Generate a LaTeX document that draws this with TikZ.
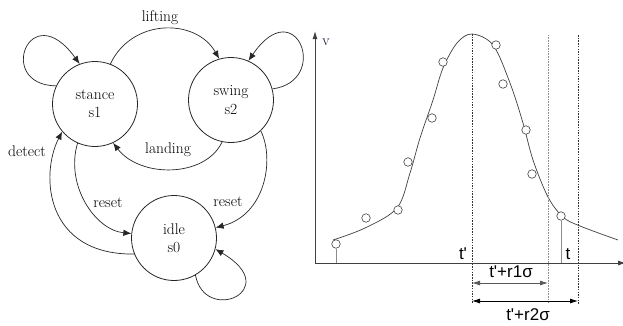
\documentclass[tikz,border=0pt]{standalone}
\usepackage{fontspec}
\newfontfamily\chartfont{Liberation Sans}
\usetikzlibrary{arrows.meta}
\begin{document}
\begin{tikzpicture}[x=1pt,y=-1pt,
  state/.style={circle,draw=black!85,line width=0.8pt,minimum size=85pt,inner sep=0pt,align=center,font=\fontsize{15.5}{18.5}\selectfont},
  trans/.style={draw=black!85,line width=0.7pt,-{Latex[length=8pt,width=6.5pt]}},
  lbl/.style={font=\fontsize{15.5}{18.5}\selectfont,inner sep=0pt},
  axisline/.style={draw=black!75,line width=0.9pt,-{Latex[length=8pt,width=5pt]}},
  curveline/.style={draw=black!75,line width=0.7pt},
  dot/.style={circle,draw=black!75,fill=white,line width=0.6pt,minimum size=8.5pt,inner sep=0pt},
  drop/.style={draw=black!45,line width=0.9pt},
  vdash/.style={draw=black!80,line width=0.5pt,dash pattern=on 1.5pt off 1.2pt},
  vdot/.style={draw=black!45,line width=0.6pt,dash pattern=on 0.8pt off 0.8pt},
  dim/.style={line width=0.8pt,{Latex[length=8pt,width=5pt]}-{Latex[length=8pt,width=5pt]}},
  clbl/.style={font=\chartfont\fontsize{17}{20}\selectfont,inner sep=0pt},
]
\useasboundingbox (0,0) rectangle (623,325);

% ---------- state machine ----------
\node[state] (s1) at (95,104) {stance\\s1};
\node[state] (s2) at (231,100) {swing\\s2};
\node[state] (s0) at (174,238) {idle\\s0};

\draw[trans] (s1.69) .. controls (132,18) and (196,18) .. (s2.106);
\node[lbl] (llift) at (160,18) {lifting};

\draw[trans] (s2.-102) .. controls (205,178) and (140,178) .. (s1.-65);
\node[lbl] (lland) at (168,150) {landing};

\draw[trans] (s1.155) .. controls (-5,85) and (30,-5) .. (s1.111);
\draw[trans] (s2.15) .. controls (331,81) and (296,-9) .. (s2.66);
\draw[trans] (s0.-60) .. controls (205,325) and (285,290) .. (s0.-15);

\draw[trans] (s1.-114) .. controls (65,185) and (95,230) .. (s0.174);
\node[lbl] (lreset1) at (108,203) {reset};

\draw[trans] (s2.-46) .. controls (275,160) and (265,215) .. (s0.14);
\node[lbl] (lreset2) at (228,202) {reset};

\draw[trans] (s0.-158) .. controls (45,255) and (40,175) .. (s1.-140);
\node[lbl] (ldetect) at (27,151) {detect};

% ---------- chart ----------
\coordinate (O) at (315,263);
\coordinate (ytop) at (315,31);
\coordinate (xend) at (626,263);
\draw[axisline] (O) -- (ytop);
\draw[axisline] (O) -- (xend);
\node[font=\fontsize{15}{18}\selectfont,text=black!85!blue,inner sep=0pt] (vlab) at (326,42) {v};
\node[clbl,text=orange!80!black] (tend) at (626,279) {t};

\draw[curveline] plot[smooth,tension=0.55] coordinates {
  (333,240) (365,228) (397,208) (410,173) (420,138) (433,100) (443,68)
  (457,43) (472,34) (493,45) (510,83) (523,123) (533,160) (548,197)
  (563,217) (580,226) (618,240)};

% vertical reference lines
\coordinate (tpt) at (472,34);   \coordinate (tpb) at (472,304);
\coordinate (r1t) at (548,35);   \coordinate (r1b) at (548,303);
\coordinate (r2t) at (578,35);   \coordinate (r2b) at (578,304);
\draw[vdash] (tpt) -- (tpb);
\draw[vdot] (r1t) -- (r1b);
\draw[vdash] (r2t) -- (r2b);

% data points
\foreach \p [count=\i] in {(336,244),(366,218),(398,210),(408,162),(432,118),(443,62),(496,45),(503,84),(526,130),(532,174),(561,216)}
  \node[dot] (d\i) at \p {};
\draw[drop] (d1.south) -- (d1.south |- O);
\draw[drop] (d11.south) -- (d11.south |- O);

% dimension arrows
\coordinate (a1l) at (472,283); \coordinate (a1r) at (548,283);
\coordinate (a2l) at (472,301); \coordinate (a2r) at (578,301);
\draw[dim,black!65] (a1l) -- (a1r);
\draw[dim,black] (a2l) -- (a2r);

\node[clbl] (ltp) at (463,254) {t\textquotesingle};
\node[clbl] (lt) at (568,254) {t};
\node[clbl] (lr1) at (511,272) {t\textquotesingle+r1σ};
\node[clbl] (lr2) at (528,315) {t\textquotesingle+r2σ};
\end{tikzpicture}
\end{document}
